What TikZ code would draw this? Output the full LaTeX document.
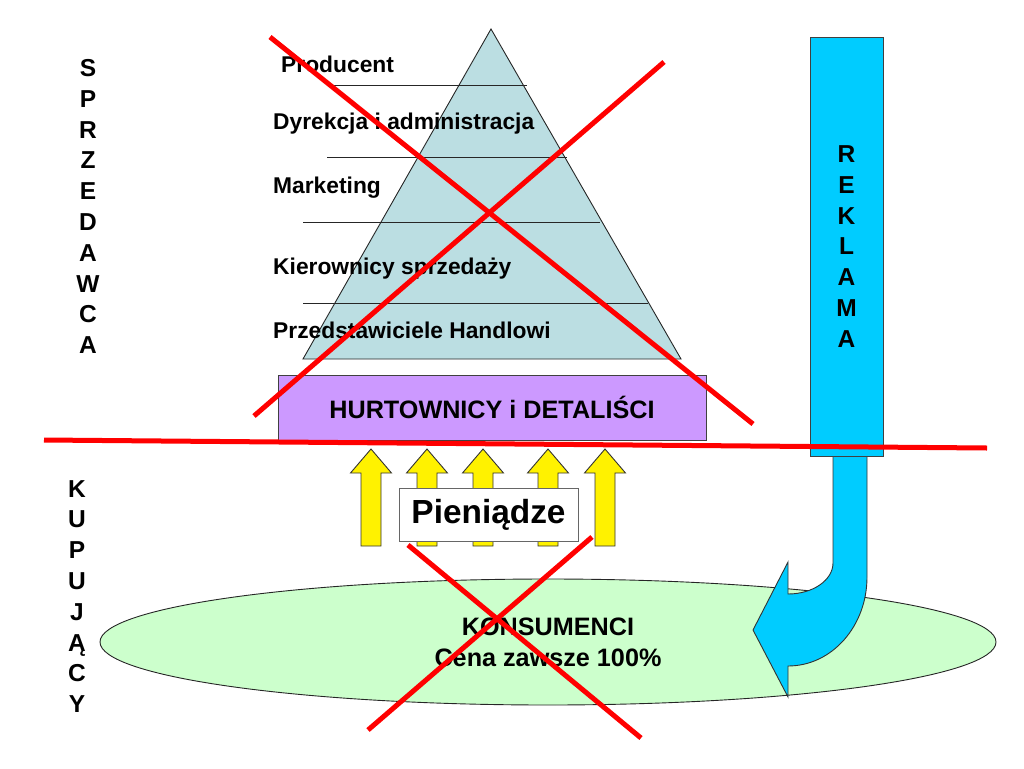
\documentclass[tikz,border=0pt]{standalone}
\usepackage{fontspec}
\setmainfont{Liberation Sans}
\usetikzlibrary{shapes.geometric, positioning}

\definecolor{pyramidblue}{RGB}{187,222,226}
\definecolor{tradepurple}{RGB}{204,153,255}
\definecolor{adblue}{RGB}{0,204,255}
\definecolor{clientgreen}{RGB}{204,255,204}

\begin{document}
\begin{tikzpicture}[
        x=1pt, y=-1pt,
        levellabel/.style={anchor=base west, inner sep=0pt, font=\fontsize{22.8}{27}\selectfont\bfseries},
        letterstack/.style={align=center, inner sep=0pt, font=\fontsize{24.5}{30.8}\selectfont\bfseries},
        divider/.style={draw=black!85, line width=0.9pt},
        blockbox/.style={rectangle, draw=black!75, line width=0.9pt, inner sep=0pt, align=center},
        crossline/.style={draw=red, line width=5pt},
        moneyarrow/.pic={
            \draw[fill=yellow, draw=black!80, line width=0.9pt]
                (-10,0) -- (-10,-73) -- (-20.5,-73) -- (0,-97) -- (20.5,-73) -- (10,-73) -- (10,0) -- cycle;
        }
    ]
    \useasboundingbox (0,0) rectangle (1024,768);

    % Pyramid of the seller
    \draw[fill=pyramidblue, draw=black!85, line width=0.9pt] (491,29) -- (681,359) -- (303,359) -- cycle;
    \draw[divider] (333,85) -- (527,85);
    \draw[divider] (327,157) -- (567,157);
    \draw[divider] (303,222) -- (600,222);
    \draw[divider] (303,303) -- (648,303);

    \node[levellabel] (producent) at (281,72) {Producent};
    \node[levellabel] (dyrekcja) at (273,129) {Dyrekcja i administracja};
    \node[levellabel] (marketing) at (273,193) {Marketing};
    \node[levellabel] (kierownicy) at (273,274) {Kierownicy sprzedaży};
    \node[levellabel] (handlowcy) at (273,338) {Przedstawiciele Handlowi};

    \node[blockbox, fill=tradepurple, minimum width=428pt, minimum height=65pt,
        font=\fontsize{25.2}{30}\selectfont\bfseries] (hurt) at (492,407.5) {HURTOWNICY i DETALIŚCI};

    % Side captions
    \node[letterstack] (sprzedawca) at (88,206.5) {S\\P\\R\\Z\\E\\D\\A\\W\\C\\A};
    \node[letterstack] (kupujacy) at (77,596.5) {K\\U\\P\\U\\J\\Ą\\C\\Y};

    % Buyers
    \node[ellipse, draw=black!85, line width=0.9pt, fill=clientgreen, minimum width=896pt, minimum height=126pt,
        inner sep=0pt, align=center, font=\fontsize{25.2}{31}\selectfont\bfseries] (konsumenci) at (548,642)
        {KONSUMENCI\\Cena zawsze 100\%};

    % Advertising arrow
    \draw[fill=adblue, draw=black!80, line width=0.9pt]
        (867,456) -- (867,577) .. controls (867,626) and (832,666) .. (788,666)
        -- (788,697) -- (753,630) -- (788,562) -- (788,594)
        .. controls (813,594) and (833,580) .. (833,563) -- (833,456) -- cycle;
    \node[blockbox, fill=adblue, minimum width=73pt, minimum height=419pt,
        font=\fontsize{24.5}{30.8}\selectfont\bfseries] (reklama) at (846.5,246.5) {R\\E\\K\\L\\A\\M\\A};

    % Money flow
    \pic (money1) at (371,546) {moneyarrow};
    \pic (money2) at (427,546) {moneyarrow};
    \pic (money3) at (483,546) {moneyarrow};
    \pic (money4) at (548,546) {moneyarrow};
    \pic (money5) at (605,546) {moneyarrow};
    \node[blockbox, draw=black!60, fill=white, minimum width=179pt, minimum height=53pt,
        font=\fontsize{33.4}{40}\selectfont\bfseries] (pieniadze) at (488.5,514.5) {Pieniądze};

    % Crossing out
    \draw[crossline] (44,440) -- (987,448);
    \draw[crossline] (270,37) -- (753,424);
    \draw[crossline] (664,62) -- (254,416);
    \draw[crossline] (408,545) -- (641,738);
    \draw[crossline] (592,537) -- (368,730);

\end{tikzpicture}
\end{document}
